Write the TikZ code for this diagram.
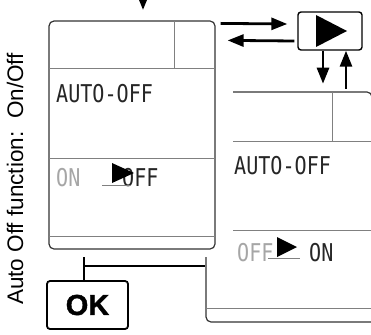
\documentclass[tikz,border=0pt]{standalone}
\usepackage{fontspec}
\setmainfont{Liberation Sans}
\newfontfamily\lcdfont[FakeStretch=0.82]{DejaVu Sans Mono}
\newfontfamily\heavyfont[FakeBold=1.5]{Liberation Sans Bold}
\usetikzlibrary{arrows.meta,positioning,calc}

\tikzset{
  panel/.style={draw=black!80, line width=1.2pt, rounded corners=5pt},
  divider/.style={draw=black!50, line width=1pt},
  flow/.style={-{Triangle[length=16pt,width=12pt]}, line width=2.8pt},
  link/.style={line width=2.6pt},
  lcd/.style={font=\lcdfont\fontsize{24.5pt}{25pt}\selectfont, inner sep=0pt, anchor=base west, text=black!85},
  dim/.style={lcd, text=black!35},
  uline/.style={draw=black!50, line width=0.8pt},
  btn/.style={draw, line width=1.4pt, rounded corners=3pt, inner sep=0pt}
}

\begin{document}
\begin{tikzpicture}[x=1pt, y=-1pt]
    \useasboundingbox (0,0) rectangle (371,334);

    % Caption
    \node[rotate=90, anchor=base, font=\fontsize{22.5pt}{23pt}\selectfont] (caption) at (23,179) {Auto Off function:\ \ On/Off};

    % Second display (behind)
    \draw[panel] (233,92) -- (372,92) -- (372,340);
    \draw[panel] (206,257) -- (206,322) -- (372,322);
    \draw[divider] (332,92) -- (332,141);
    \draw[divider] (233,141) -- (372,141);
    \draw[divider] (233,230) -- (372,230);
    \draw[divider] (206,308) -- (372,308);
    \node[lcd] (autoB) at (234,174) {AUTO-OFF};
    \node[dim] (offB) at (237,261) {OFF};
    \node[lcd] (onB) at (309,261) {ON};
    \draw[uline] (268,258) -- (300,258);
    \fill (277,237) -- (297,247) -- (277,257) -- cycle;

    % First display
    \node[panel, fill=white, minimum width=166pt, minimum height=228pt] (lcdA) at (132,135) {};
    \draw[divider] (174,21) -- (174,69);
    \draw[divider] (49,69) -- (215,69);
    \draw[divider] (49,158) -- (215,158);
    \draw[divider] (49,236) -- (215,236);
    \node[lcd] (autoA) at (56,102) {AUTO-OFF};
    \node[dim] (onA) at (56,186) {ON};
    \node[lcd] (offA) at (122,186) {OFF};
    \draw[uline] (102,185) -- (130,185);
    \fill (112,163) -- (134,173) -- (112,183) -- cycle;

    % Buttons
    \node[btn, minimum width=64pt, minimum height=38pt] (playbtn) at (330,31) {};
    \fill ($(playbtn)+(-14,-16)$) -- ($(playbtn)+(17,0)$) -- ($(playbtn)+(-14,16)$) -- cycle;
    \node[btn, line width=1.8pt, minimum width=81pt, minimum height=48pt, font=\heavyfont\fontsize{29pt}{29pt}\selectfont] (okbtn) at (87.5,305) {OK};

    % Arrows
    \coordinate (entry) at (143,-12);
    \draw[flow] (entry) -- ++(0,22);
    \draw[flow] ($(lcdA.north east)+(5,3)$) -- ($(playbtn.west)+(-10,-7)$);
    \draw[flow] ($(playbtn.west)+(-3,10)$) -- ($(lcdA.north east)+(12,20)$);
    \draw[flow] ([xshift=-7pt]playbtn.south) -- ++(0,33);
    \draw[flow] ([xshift=16pt,yshift=-38pt]playbtn.south) -- ([xshift=16pt]playbtn.south);

    % OK link
    \coordinate (okstem) at (84,257);
    \coordinate (okend) at (205,266);
    \draw[link] (okstem) -- (okstem |- okbtn.north);
    \draw[link] (okstem |- okend) -- (okend);
\end{tikzpicture}
\end{document}
